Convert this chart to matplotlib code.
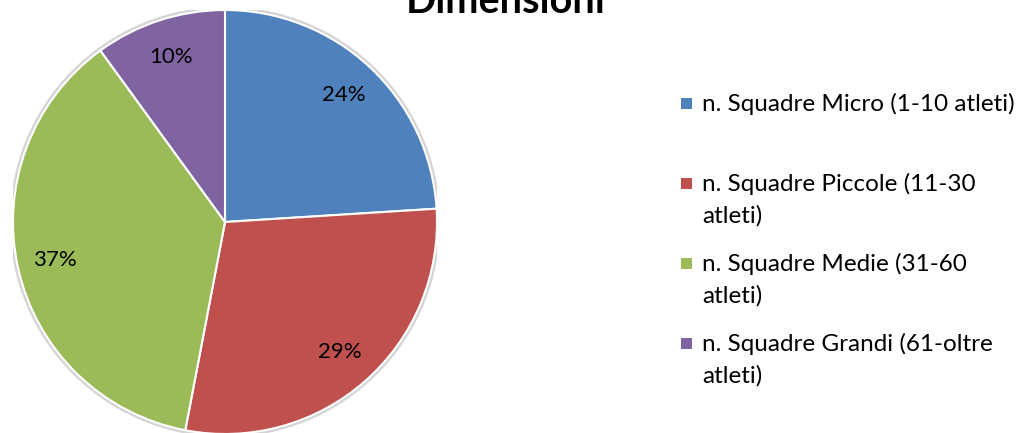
import matplotlib
matplotlib.use('Agg')
import matplotlib.pyplot as plt
from matplotlib.patches import Rectangle, Circle

plt.rcParams['font.family'] = ['Lato', 'DejaVu Sans']

# Dati
categorie = ['n. Squadre Micro (1-10 atleti)',
             'n. Squadre Piccole (11-30\natleti)',
             'n. Squadre Medie (31-60\natleti)',
             'n. Squadre Grandi (61-oltre\natleti)']
valori = [24, 29, 37, 10]
colori = ['#4F81BD', '#C0504D', '#9BBB59', '#8064A2']
titolo = 'Dimensioni'

W, H = 1024, 433
fig = plt.figure(figsize=(W / 100, H / 100), dpi=100)
fig.patch.set_facecolor('white')

# Torta: centro (225, 222) px, raggio 212 px
cx, cy, r = 225, 222, 212
ax = fig.add_axes([(cx - r) / W, (H - cy - r) / H, 2 * r / W, 2 * r / H])
ax.add_patch(Circle((0, 0), 1.012, color='#d4d4d4', zorder=0))
wedges, texts, autotexts = ax.pie(valori, colors=colori, startangle=90, counterclock=False,
                                  autopct='%.0f%%', pctdistance=0.82, radius=1,
                                  wedgeprops=dict(edgecolor='white', linewidth=1.5))
for t in autotexts:
    t.set_fontsize(16)
    t.set_color('black')
ax.set_xlim(-1, 1)
ax.set_ylim(-1, 1)
ax.axis('off')

fig.text(506 / W, (H - 13) / H, titolo, ha='center', va='baseline', fontsize=28.5, fontweight='bold')

# Legenda manuale (baseline della prima riga in px dall'alto)
legend_base = [111, 191, 271, 351]
line_gap = 32
for lab, col, yb in zip(categorie, colori, legend_base):
    fig.patches.append(Rectangle((681 / W, (H - yb + 2) / H), 11 / W, 11 / H,
                                 transform=fig.transFigure, facecolor=col, edgecolor='none'))
    righe = lab.split('\n')
    for i, riga in enumerate(righe):
        fig.text(702 / W, (H - yb - i * line_gap) / H, riga, ha='left', va='baseline',
                 fontsize=17.5)

fig.savefig('out.png', dpi=100)
